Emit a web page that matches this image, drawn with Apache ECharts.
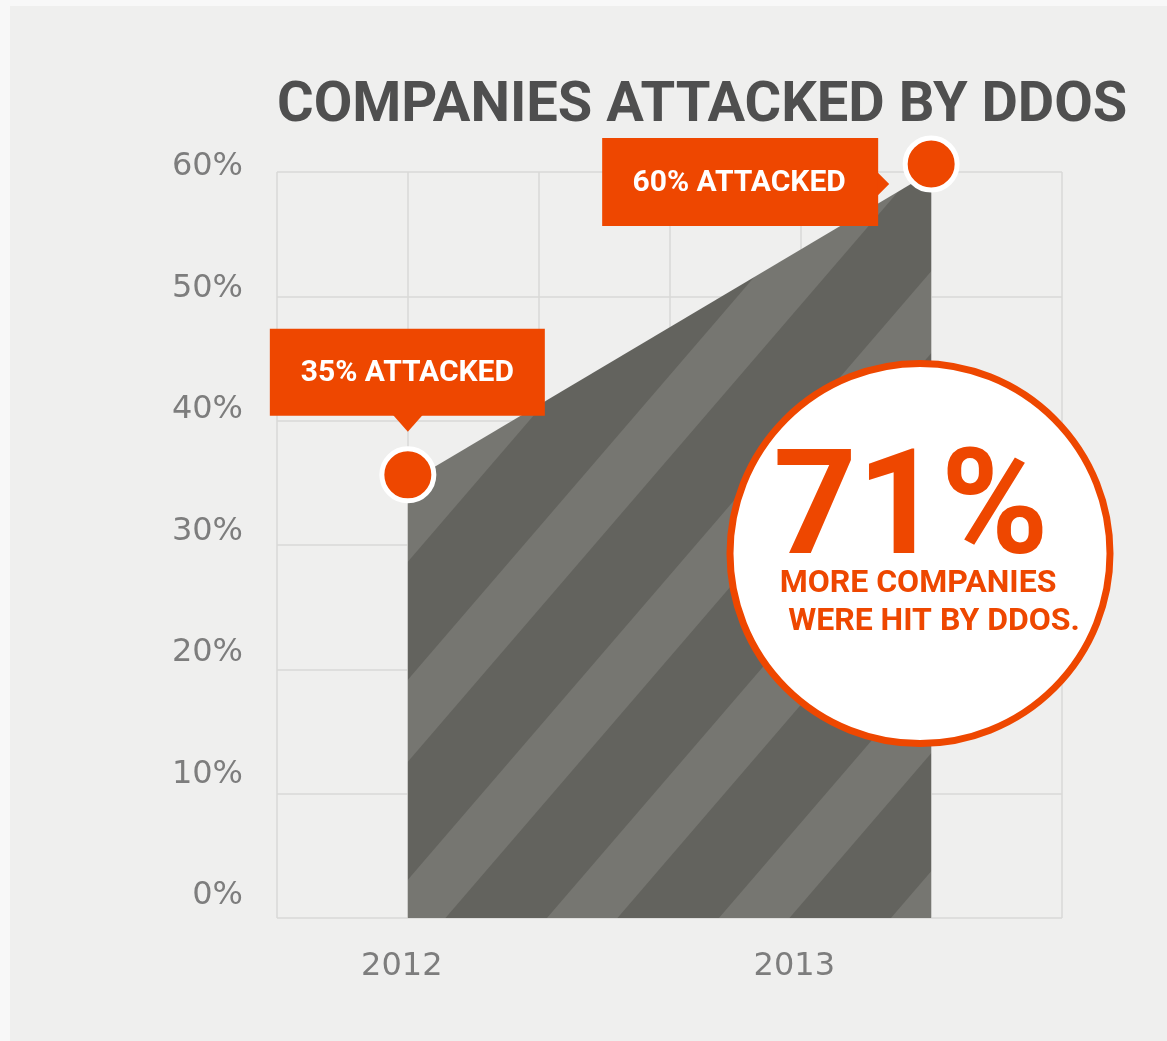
<!DOCTYPE html>
<html><head><meta charset="utf-8">
<script src="https://cdn.jsdelivr.net/npm/echarts@6/dist/echarts.min.js"></script>
<style>
html,body{margin:0;padding:0;background:#f8f8f8;width:1167px;height:1041px;overflow:hidden;}
#panel{position:absolute;left:10px;top:6px;right:0;bottom:0;background:#efefee;}
#chart{position:absolute;left:0;top:0;width:1167px;height:1041px;}
</style></head><body>
<div id="panel"></div><div id="chart"></div>
<script>
// ---- data ----
const chartTitle = 'COMPANIES ATTACKED BY DDOS';
const years = ['2012', '2013'];
const yearSlot = [1, 5];            // where each year's point sits on the 0–6 x scale
const attacked = [35, 60];          // % of companies attacked
const xTickLabels = {1: '2012', 4: '2013'};
const yTicks = [0, 10, 20, 30, 40, 50, 60];
const increasePct = 71;
const increaseLines = ['MORE COMPANIES', 'WERE HIT BY DDOS.'];

const ORANGE = '#ee4700';
const FONT = 'Roboto';
const AXISFONT = 'DejaVu Sans';

function makeStripes(){
  const Px = 172, Py = 200, f = 0.41, c0 = 0.77;
  const cv = document.createElement('canvas'); cv.width = Px; cv.height = Py;
  const g = cv.getContext('2d');
  g.fillStyle = '#63635e'; g.fillRect(0, 0, Px, Py);
  g.fillStyle = '#767671';
  const X = (c, y) => (c - y / Py) * Px;
  for (let k = -2; k <= 3; k++){
    const a = k + c0, b = k + c0 + f, y0 = -5, y1 = Py + 5;
    g.beginPath(); g.moveTo(X(a, y0), y0); g.lineTo(X(b, y0), y0);
    g.lineTo(X(b, y1), y1); g.lineTo(X(a, y1), y1); g.closePath(); g.fill();
  }
  return cv;
}

const chart = echarts.init(document.getElementById('chart'), null, {renderer: 'canvas'});
const gridColor = '#d9d9d7';
chart.setOption({
  animation: false,
  backgroundColor: 'transparent',
  title: {
    text: chartTitle, left: 272, top: 74,
    textStyle: {fontFamily: FONT, fontWeight: 'bold', fontSize: 56, color: '#4f4f4f'}
  },
  grid: [
    {left: 277, right: 105, top: 172, bottom: 123},
    {left: 277, right: 105, top: 167, bottom: 145}
  ],
  xAxis: [
    {type: 'value', gridIndex: 0, min: 0, max: 6, interval: 1,
     axisLine: {show: false}, axisTick: {show: false},
     splitLine: {show: true, lineStyle: {color: gridColor, width: 1.5}},
     axisLabel: {formatter: v => xTickLabels[v] || '', fontFamily: AXISFONT, fontSize: 32, color: '#7d7d7d',
                 margin: 33, padding: [0, 12, 0, 0]}},
    {type: 'value', gridIndex: 1, min: 0, max: 6, show: false}
  ],
  yAxis: [
    {type: 'value', gridIndex: 0, min: 0, max: 60, interval: 10,
     axisLine: {show: false}, axisTick: {show: false}, axisLabel: {show: false},
     splitLine: {show: true, lineStyle: {color: gridColor, width: 1.5}}},
    {type: 'value', gridIndex: 1, min: yTicks[0], max: yTicks[yTicks.length - 1], interval: 10,
     axisLine: {show: false}, axisTick: {show: false}, splitLine: {show: false},
     axisLabel: {formatter: '{value}%', fontFamily: AXISFONT, fontSize: 32, color: '#7d7d7d', margin: 34}}
  ],
  series: [{
    type: 'line', xAxisIndex: 0, yAxisIndex: 0,
    data: attacked.map((v, i) => [yearSlot[i], v]),
    symbol: 'circle', symbolSize: 52, symbolOffset: [0, -8], showSymbol: true, showAllSymbol: true,
    itemStyle: {color: ORANGE, borderColor: '#ffffff', borderWidth: 5},
    lineStyle: {width: 0, opacity: 0},
    areaStyle: {color: {image: makeStripes(), repeat: 'repeat'}, opacity: 1},
    clip: false, silent: true, z: 3
  }]
});

// callouts positioned from the data points through the chart's scales
const p0 = chart.convertToPixel({gridIndex: 0}, [yearSlot[0], attacked[0]]);
const p1 = chart.convertToPixel({gridIndex: 0}, [yearSlot[1], attacked[1]]);
const m0 = [p0[0], p0[1] - 8], m1 = [p1[0], p1[1] - 8];
const calloutFont = {fontFamily: FONT, fontWeight: 'bold', fontSize: 30, fill: '#ffffff'};
function txt(text, x, y, extra){
  return {type: 'text', z: 20, style: Object.assign({
    text: text, x: x, y: y, align: 'center', verticalAlign: 'middle',
    textAlign: 'center', textVerticalAlign: 'middle'}, extra)};
}
const graphics = [];
// 2012 callout (above)
graphics.push({type: 'rect', z: 20, shape: {x: m0[0] - 138, y: m0[1] - 146, width: 275, height: 87}, style: {fill: ORANGE}});
graphics.push({type: 'polygon', z: 20, shape: {points: [[m0[0] - 15, m0[1] - 60], [m0[0] + 15, m0[1] - 60], [m0[0], m0[1] - 43]]}, style: {fill: ORANGE}});
graphics.push(txt(attacked[0] + '% ATTACKED', m0[0] - 0.5, m0[1] - 101, calloutFont));
// 2013 callout (left)
graphics.push({type: 'rect', z: 20, shape: {x: m1[0] - 329, y: m1[1] - 26, width: 276, height: 88}, style: {fill: ORANGE}});
graphics.push({type: 'polygon', z: 20, shape: {points: [[m1[0] - 54, m1[1] + 8], [m1[0] - 54, m1[1] + 32], [m1[0] - 42, m1[1] + 20]]}, style: {fill: ORANGE}});
graphics.push(txt(attacked[1] + '% ATTACKED', m1[0] - 192, m1[1] + 19, calloutFont));
// big stat circle
graphics.push({type: 'circle', z: 20, shape: {cx: 920, cy: 553.5, r: 190}, style: {fill: '#ffffff', stroke: ORANGE, lineWidth: 7}});
graphics.push(txt(increasePct + '%', 911, 516, {fontFamily: FONT, fontWeight: 'bold', fontSize: 146, fill: ORANGE}));
graphics.push(txt(increaseLines[0], 918, 584, {fontFamily: FONT, fontWeight: 'bold', fontSize: 32, fill: ORANGE}));
graphics.push(txt(increaseLines[1], 934, 622, {fontFamily: FONT, fontWeight: 'bold', fontSize: 32, fill: ORANGE}));
chart.setOption({graphic: graphics});
</script>
</body></html>
